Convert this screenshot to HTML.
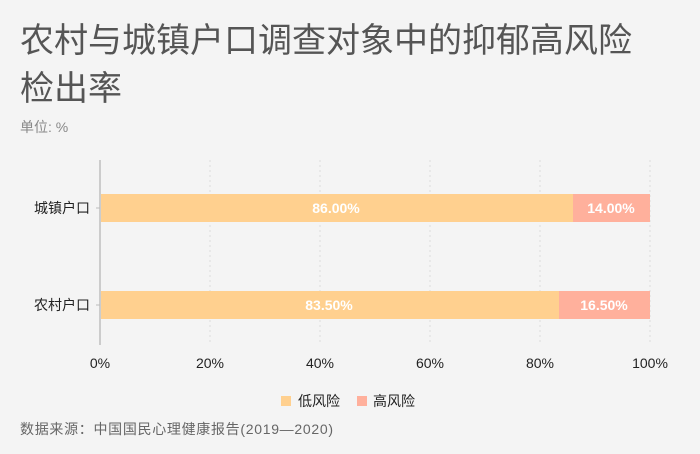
<!DOCTYPE html>
<html><head><meta charset="utf-8"><style>
body{margin:0;width:700px;height:454px;background:#f4f4f4;overflow:hidden;font-family:"Liberation Sans","Noto Sans CJK SC",sans-serif;position:relative}
.t{position:absolute;left:20px;top:17px;font-size:34px;line-height:48px;color:#555;width:680px}
.a{position:absolute;font-size:14px;color:#888}
</style></head><body>
<div class="t">农村与城镇户口调查对象中的抑郁高风险<br>检出率</div>
<div class="a" style="left:20px;top:117px">单位: %</div>
<svg width="700" height="454" style="position:absolute;left:0;top:0" font-family="Liberation Sans, Noto Sans CJK SC, sans-serif">
<g stroke="#ddd" stroke-dasharray="2,3">
<line x1="210" y1="160" x2="210" y2="345"/><line x1="320" y1="160" x2="320" y2="345"/><line x1="430" y1="160" x2="430" y2="345"/><line x1="540" y1="160" x2="540" y2="345"/><line x1="650" y1="160" x2="650" y2="345"/>
</g>
<line x1="100" y1="160" x2="100" y2="345" stroke="#ccc" stroke-width="2"/>
<line x1="96" y1="208" x2="100" y2="208" stroke="#bbb"/><line x1="96" y1="305" x2="100" y2="305" stroke="#bbb"/>
<rect x="101" y="194" width="472" height="28" fill="#ffd08f"/><rect x="573" y="194" width="77" height="28" fill="#ffb09c"/>
<rect x="101" y="291" width="458" height="28" fill="#ffd08f"/><rect x="559" y="291" width="91" height="28" fill="#ffb09c"/>
<g fill="#fff" font-weight="bold" font-size="14" text-anchor="middle">
<text x="336" y="213">86.00%</text><text x="611" y="213">14.00%</text>
<text x="329" y="310">83.50%</text><text x="604" y="310">16.50%</text>
</g>
<g font-size="14" fill="#222" text-anchor="end"><text x="90" y="213">城镇户口</text><text x="90" y="310">农村户口</text></g>
<g font-size="14" fill="#222" text-anchor="middle">
<text x="100" y="368">0%</text><text x="210" y="368">20%</text><text x="320" y="368">40%</text><text x="430" y="368">60%</text><text x="540" y="368">80%</text><text x="650" y="368">100%</text>
</g>
<rect x="281" y="396" width="10" height="10" fill="#ffd08f"/><text x="298" y="406" font-size="14" fill="#222">低风险</text>
<rect x="357" y="396" width="10" height="10" fill="#ffb09c"/><text x="373" y="406" font-size="14" fill="#222">高风险</text>
<text x="20" y="434" font-size="14" fill="#666" textLength="313">数据来源：中国国民心理健康报告(2019—2020)</text>
</svg>
</body></html>
